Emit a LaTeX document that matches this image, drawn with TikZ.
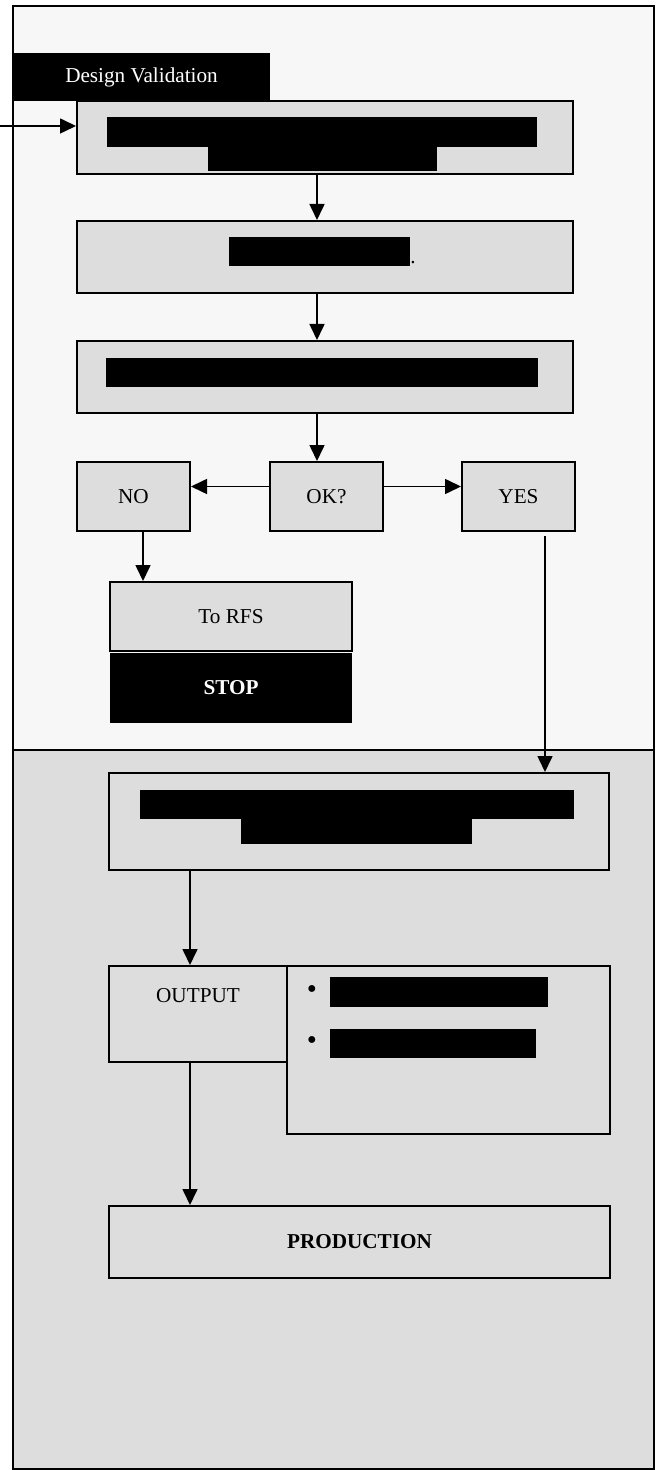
\documentclass[tikz,border=0pt]{standalone}
\usepackage{fontspec}
\setmainfont{Liberation Serif}
\usetikzlibrary{arrows.meta,positioning}
\definecolor{flowpale}{HTML}{F7F7F7}
\definecolor{flowgray}{HTML}{DDDDDD}

\begin{document}
\fontsize{10.6}{12.7}\selectfont
\begin{tikzpicture}[x=0.5pt, y=-0.5pt,
  box/.style={draw=black, line width=1pt, fill=flowgray, inner sep=0pt,
              minimum width=248pt, minimum height=36pt, align=center},
  small/.style={box, minimum width=56.5pt, minimum height=34.5pt},
  bar/.style={fill=black},
  arr/.style={-{Triangle[length=8pt,width=7.5pt]}, line width=0.8pt}
]
\useasboundingbox (0,0) rectangle (659,1470);

% two stages
\fill[flowpale] (13,6) rectangle (654,750);
\fill[flowgray] (13,750) rectangle (654,1469);
\draw[line width=1pt] (13,6) rectangle (654,1469);
\draw[line width=1pt] (13,750) -- (654,750);

\node[fill=black, text=white, inner sep=0pt, minimum width=128.5pt,
      minimum height=24pt] (title) at (141.5,77) {Design Validation};

% validation steps
\node[box, minimum height=36.5pt] (scope) at (325,137.5) {};
\node[box] (check) at (325,257) {};
\node[box] (review) at (325,377) {};
\fill[bar] (107,117) rectangle (537,147);
\fill[bar] (208,147) rectangle (437,171);
\fill[bar] (229,237) rectangle (410,266);
\node[inner sep=0pt, anchor=base west] (checkdot) at (410,264) {.};
\fill[bar] (106,358) rectangle (538,387);

\node[small] (no) at (133.5,496.5) {NO};
\node[small] (ok) at (326.5,496.5) {OK?};
\node[small] (yes) at (518.5,496.5) {YES};
\node[box, minimum width=121pt, minimum height=34.5pt] (rfs) at (231,616.5) {To RFS};
\node[fill=black, text=white, font=\bfseries, inner sep=0pt, minimum width=121pt,
      minimum height=35pt] (stop) at (231,688) {STOP};

% production stage
\node[box, minimum width=250pt, minimum height=48.5pt] (transfer) at (359,821.5) {};
\fill[bar] (140,790) rectangle (574,819);
\fill[bar] (241,819) rectangle (472,844);

\node[box, minimum width=161.5pt, minimum height=84pt] (items) at (448.5,1050) {};
\node[box, minimum width=89pt, minimum height=48pt,
      label={[anchor=north, yshift=-8pt]north:OUTPUT}] (output) at (198,1014) {};
\node[inner sep=0pt, font=\Large] (dotA) at (312,992) {\textbullet};
\node[inner sep=0pt, font=\Large] (dotB) at (312,1043) {\textbullet};
\fill[bar] (330,977) rectangle (548,1007);
\fill[bar] (330,1029) rectangle (536,1058);

\node[box, minimum width=250.5pt, font=\bfseries] (production) at (359.5,1242) {PRODUCTION};

% connectors
\coordinate (in) at (0,126);
\draw[arr] (in) -- (in -| scope.west);
\draw[arr] ([xshift=-4pt]scope.south) -- ([xshift=-4pt]check.north);
\draw[arr] ([xshift=-4pt]check.south) -- ([xshift=-4pt]review.north);
\draw[arr] ([xshift=-4pt]review.south) -- ([xshift=-4pt]review.south |- ok.north);
\draw[arr] ([yshift=5pt]ok.west) -- ([yshift=5pt]no.east);
\draw[arr] ([yshift=5pt]ok.east) -- ([yshift=5pt]yes.west);
\draw[arr] ([xshift=4.75pt]no.south) -- ([xshift=4.75pt]no.south |- rfs.north);
\draw[arr] ([xshift=13.25pt,yshift=-2pt]yes.south) -- ([xshift=13.25pt]yes.south |- transfer.north);
\draw[arr] ([xshift=-4pt]output.north |- transfer.south) -- ([xshift=-4pt]output.north);
\draw[arr] ([xshift=-4pt]output.south) -- ([xshift=-4pt]output.south |- production.north);
\end{tikzpicture}
\end{document}
